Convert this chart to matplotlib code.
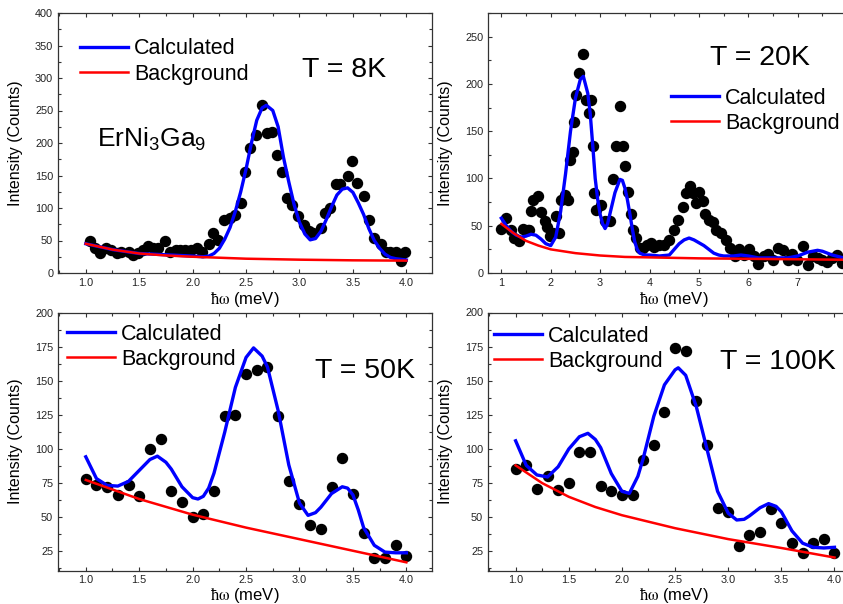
import matplotlib
matplotlib.use('Agg')
import matplotlib.pyplot as plt
from matplotlib.ticker import MultipleLocator, AutoMinorLocator

plt.rcParams['font.family'] = ['Liberation Sans', 'DejaVu Sans']
plt.rcParams['mathtext.fontset'] = 'stix'

# ---- T = 8K ----
t8_x = [1.04, 1.085, 1.13, 1.19, 1.24, 1.29, 1.33, 1.40, 1.44, 1.49, 1.54, 1.58, 1.63, 1.68,
        1.74, 1.79, 1.84, 1.88, 1.93, 1.98, 2.04, 2.09, 2.15, 2.19, 2.24, 2.29, 2.35, 2.40,
        2.45, 2.49, 2.54, 2.59, 2.65, 2.70, 2.74, 2.79, 2.84, 2.88, 2.93, 2.99, 3.04, 3.09,
        3.13, 3.20, 3.24, 3.29, 3.34, 3.38, 3.45, 3.49, 3.54, 3.60, 3.65, 3.70, 3.76, 3.81,
        3.85, 3.90, 3.95, 3.99]
t8_y = [49, 38, 31, 38, 36, 31, 32, 33, 28, 31, 36, 41, 38, 38,
        49, 33, 35, 36, 35, 35, 38, 32, 44, 62, 51, 81, 85, 90,
        108, 155, 192, 213, 259, 216, 217, 182, 156, 115, 105, 88, 74, 64,
        62, 69, 92, 100, 137, 137, 149, 172, 139, 118, 82, 54, 44, 33,
        33, 32, 18, 33]
t8_calc_x = [1.0, 1.25, 1.5, 1.75, 2.0, 2.1, 2.15, 2.2, 2.25, 2.3, 2.35, 2.4, 2.45, 2.5, 2.55,
             2.6, 2.65, 2.69, 2.75, 2.8, 2.85, 2.9, 2.95, 3.0, 3.05, 3.1, 3.15, 3.2, 3.25,
             3.3, 3.35, 3.4, 3.45, 3.5, 3.55, 3.6, 3.65, 3.7, 3.75, 3.8, 3.85, 3.9, 4.0]
t8_calc_y = [45, 36, 30, 28, 26, 25, 26, 30, 38, 52, 70, 95, 125, 160, 200,
             235, 254, 258, 250, 225, 178, 140, 105, 78, 60, 51, 53, 64, 82,
             102, 120, 129, 131, 124, 108, 90, 68, 50, 38, 29, 24, 22, 20]
t8_bg_x = [1.0, 1.25, 1.5, 1.75, 2.0, 2.5, 3.0, 3.5, 4.0]
t8_bg_y = [45, 36, 30, 27, 25, 22, 20.5, 19.5, 19]

# ---- T = 20K ----
t20_x = [1.0, 1.1, 1.19, 1.26, 1.35, 1.44, 1.53, 1.57, 1.61, 1.64, 1.74, 1.81, 1.88, 1.93,
         1.99, 2.05, 2.1, 2.17, 2.21, 2.28, 2.35, 2.38, 2.45, 2.48, 2.52, 2.58, 2.65, 2.72,
         2.77, 2.82, 2.85, 2.87, 2.92, 3.02, 3.09, 3.19, 3.26, 3.33, 3.41, 3.46, 3.51, 3.56,
         3.62, 3.66, 3.73, 3.8, 3.87, 3.95, 4.03, 4.1, 4.2, 4.3, 4.4, 4.49, 4.57, 4.67,
         4.74, 4.81, 4.87, 4.94, 5.01, 5.08, 5.13, 5.21, 5.28, 5.35, 5.45, 5.55, 5.62, 5.72,
         5.82, 5.92, 6.02, 6.12, 6.2, 6.31, 6.39, 6.5, 6.6, 6.7, 6.8, 6.88, 6.98, 7.1,
         7.2, 7.3, 7.4, 7.5, 7.6, 7.7, 7.8, 7.89]
t20_y = [47, 58, 46, 37, 34, 47, 46, 46, 66, 77, 81, 65, 55, 49,
         39, 42, 60, 42, 77, 83, 77, 120, 128, 160, 188, 212, 232, 183,
         169, 183, 134, 85, 67, 72, 55, 55, 99, 134, 177, 134, 113, 86,
         62, 46, 37, 26, 26, 30, 32, 28, 30, 30, 35, 46, 56, 70,
         85, 92, 85, 74, 86, 76, 62, 56, 54, 46, 42, 35, 26, 18,
         25, 19, 25, 18, 9, 18, 20, 14, 26, 24, 14, 20, 14, 29,
         8, 18, 16, 14, 12, 16, 19, 11]
t20_calc_x = [1.0, 1.1, 1.2, 1.3, 1.4, 1.5, 1.6, 1.7, 1.8, 1.9, 2.0, 2.1, 2.2, 2.3, 2.4, 2.5,
              2.6, 2.66, 2.75, 2.8, 2.85, 2.9, 2.95, 3.0, 3.05, 3.1, 3.15, 3.2, 3.3, 3.4,
              3.45, 3.5, 3.55, 3.6, 3.65, 3.7, 3.75, 3.8, 3.9, 4.0, 4.2, 4.4, 4.5, 4.6, 4.7,
              4.8, 4.9, 5.0, 5.1, 5.2, 5.3, 5.4, 5.5, 5.7, 5.85, 6.0, 6.2, 6.5, 6.8, 7.0,
              7.2, 7.4, 7.5, 7.7, 8.0]
t20_calc_y = [58, 50, 44, 40, 38, 39, 41, 40, 36, 31, 29, 38, 65, 105, 150, 185,
              205, 208, 190, 168, 135, 100, 78, 62, 52, 47, 52, 63, 85, 99,
              98, 90, 78, 63, 47, 33, 25, 21, 19, 19, 18, 19, 25, 31, 35,
              37, 35, 32, 29, 25, 21, 19, 18, 18, 19, 18, 16, 16, 16, 18,
              22, 24, 23, 19, 15]
t20_bg_x = [1.0, 1.25, 1.5, 1.75, 2.0, 2.5, 3.0, 3.5, 4.0, 5.0, 6.0, 7.0, 8.0]
t20_bg_y = [52, 42, 34, 29, 25, 21, 18.5, 17, 16.5, 15.5, 15, 14.5, 14]
t20_ticks = [1, 2, 3, 4, 5, 6, 7]

# ---- T = 50K ----
t50_x = [1.0, 1.1, 1.2, 1.3, 1.4, 1.5, 1.6, 1.7, 1.8, 1.9, 2.0, 2.1, 2.2, 2.3, 2.4, 2.5,
         2.6, 2.7, 2.8, 2.9, 3.0, 3.1, 3.2, 3.3, 3.4, 3.5, 3.6, 3.7, 3.8, 3.9, 4.0]
t50_y = [78, 73, 72, 66, 73, 65, 100, 107, 69, 61, 50, 52, 69, 124, 125, 155,
         158, 160, 124, 76, 59, 44, 41, 72, 93, 67, 38, 20, 20, 29, 21]
t50_calc_x = [1.0, 1.1, 1.2, 1.3, 1.4, 1.5, 1.6, 1.67, 1.75, 1.8, 1.9, 2.0, 2.05, 2.1, 2.15,
              2.2, 2.3, 2.4, 2.5, 2.57, 2.65, 2.7, 2.8, 2.9, 3.0, 3.08, 3.15, 3.2, 3.3, 3.4,
              3.45, 3.5, 3.55, 3.6, 3.7, 3.8, 3.9, 4.0]
t50_calc_y = [94, 78, 73, 72.5, 76, 84, 92, 94.5, 90, 85, 72, 64, 63, 65, 71,
              82, 112, 145, 167, 174, 168, 160, 128, 88, 60, 51, 53, 57, 67, 72,
              71, 66, 55, 42, 29, 24, 23.5, 23.5]
t50_bg_x = [1.0, 1.5, 2.0, 2.5, 3.0, 3.5, 4.0]
t50_bg_y = [77, 63, 51.5, 42, 33.5, 25, 16.5]

# ---- T = 100K ----
t100_x = [1.0, 1.1, 1.2, 1.3, 1.4, 1.5, 1.6, 1.7, 1.8, 1.9, 2.0, 2.1, 2.2, 2.3, 2.4, 2.5,
          2.6, 2.7, 2.8, 2.9, 3.0, 3.1, 3.2, 3.3, 3.4, 3.5, 3.6, 3.7, 3.8, 3.9, 4.0]
t100_y = [85, 88, 71, 80, 70, 75, 98, 98, 73, 69, 66, 66, 92, 103, 127, 174,
          172, 135, 103, 57, 54, 29, 37, 39, 56, 46, 31, 24, 31, 34, 24]
t100_calc_x = [1.0, 1.1, 1.2, 1.3, 1.4, 1.5, 1.6, 1.68, 1.75, 1.8, 1.9, 2.0, 2.07, 2.15,
               2.2, 2.3, 2.4, 2.5, 2.53, 2.6, 2.7, 2.8, 2.9, 3.0, 3.08, 3.15, 3.2, 3.3,
               3.38, 3.45, 3.5, 3.6, 3.7, 3.8, 3.9, 4.0]
t100_calc_y = [106, 88, 81, 79.5, 87, 100, 109, 111.5, 107, 101, 82, 69, 67.5, 80,
               93, 124, 147, 158, 159.5, 154, 131, 100, 69, 53, 48, 48.5, 51, 57,
               60, 58, 54, 40, 31, 28, 27.5, 28]
t100_bg_x = [1.0, 1.25, 1.5, 1.75, 2.0, 2.5, 3.0, 3.5, 4.0]
t100_bg_y = [88, 75, 65, 57.5, 51.5, 42, 34, 27.5, 20.5]

W, H = 843, 604


def eixo(fig, esq, topo, dir_, base):
    return fig.add_axes([esq / W, 1 - base / H, (dir_ - esq) / W, (base - topo) / H])


def estilo(ax, xmaj, ymaj, pad_x=1):
    ax.xaxis.set_major_locator(MultipleLocator(xmaj))
    ax.yaxis.set_major_locator(MultipleLocator(ymaj))
    ax.xaxis.set_minor_locator(AutoMinorLocator(2))
    ax.yaxis.set_minor_locator(AutoMinorLocator(2))
    ax.tick_params(which='both', direction='in', top=True, right=True,
                   color='#333333', width=0.8, labelsize=7.8, labelcolor='#222222', pad=3.5)
    ax.tick_params(which='major', length=3.2)
    ax.tick_params(which='minor', length=2)
    for s in ax.spines.values():
        s.set_color('#333333')
        s.set_linewidth(0.9)
    ax.set_ylabel('Intensity (Counts)', fontsize=11.5)
    ax.set_xlabel('$\\mathrm{\\hbar\\omega}$ (meV)', fontsize=12, labelpad=pad_x)
    ax.yaxis.set_label_coords(-0.094, 0.5)


def painel(ax, x, y, cx, cy, bx, by):
    ax.plot(x, y, 'o', color='black', markersize=7.2, zorder=2)
    ax.plot(cx, cy, color='#0000ff', lw=2.4, label='Calculated', zorder=3)
    ax.plot(bx, by, color='#ff0000', lw=1.8, label='Background', zorder=4)


def legenda(ax, x_px, topo_px):
    ax.legend(loc='upper left', bbox_to_anchor=(x_px / W, 1 - topo_px / H),
              bbox_transform=ax.figure.transFigure, frameon=False, fontsize=15.5,
              borderpad=0, borderaxespad=0, handlelength=2.23, handletextpad=0.28,
              labelspacing=0.19)


fig = plt.figure(figsize=(W / 100, H / 100), dpi=100)

ax1 = eixo(fig, 58, 13, 432, 273)
painel(ax1, t8_x, t8_y, t8_calc_x, t8_calc_y, t8_bg_x, t8_bg_y)
ax1.set_xlim(0.74, 4.24)
ax1.set_ylim(0, 400)
estilo(ax1, 0.5, 50)
legenda(ax1, 80, 38.5)
fig.text(302 / W, 1 - 77.3 / H, 'T = 8K', fontsize=20.5, va='baseline')
fig.text(97 / W, 1 - 146.7 / H, '$\\mathregular{ErNi_3Ga_9}$', fontsize=19, va='baseline')

ax2 = eixo(fig, 488, 13, 860.5, 273)
painel(ax2, t20_x, t20_y, t20_calc_x, t20_calc_y, t20_bg_x, t20_bg_y)
ax2.set_xlim(0.73, 8.27)
ax2.set_ylim(0, 275)
estilo(ax2, 1, 50)
ax2.set_xticks(t20_ticks)
ax2.xaxis.set_minor_locator(AutoMinorLocator(2))
legenda(ax2, 671, 87.5)
fig.text(710 / W, 1 - 65 / H, 'T = 20K', fontsize=20.5, va='baseline')

ax3 = eixo(fig, 58, 312.5, 432, 570.5)
painel(ax3, t50_x, t50_y, t50_calc_x, t50_calc_y, t50_bg_x, t50_bg_y)
ax3.set_xlim(0.74, 4.24)
ax3.set_ylim(10.5, 200)
estilo(ax3, 0.5, 25, pad_x=0)
legenda(ax3, 67, 323.5)
fig.text(315 / W, 1 - 378 / H, 'T = 50K', fontsize=20.5, va='baseline')

ax4 = eixo(fig, 488, 312.5, 860, 570.5)
painel(ax4, t100_x, t100_y, t100_calc_x, t100_calc_y, t100_bg_x, t100_bg_y)
ax4.set_xlim(0.74, 4.24)
ax4.set_ylim(11, 200)
estilo(ax4, 0.5, 25, pad_x=0)
legenda(ax4, 494, 325.5)
fig.text(720 / W, 1 - 368.7 / H, 'T = 100K', fontsize=20.5, va='baseline')

fig.savefig('out.png', dpi=100)
